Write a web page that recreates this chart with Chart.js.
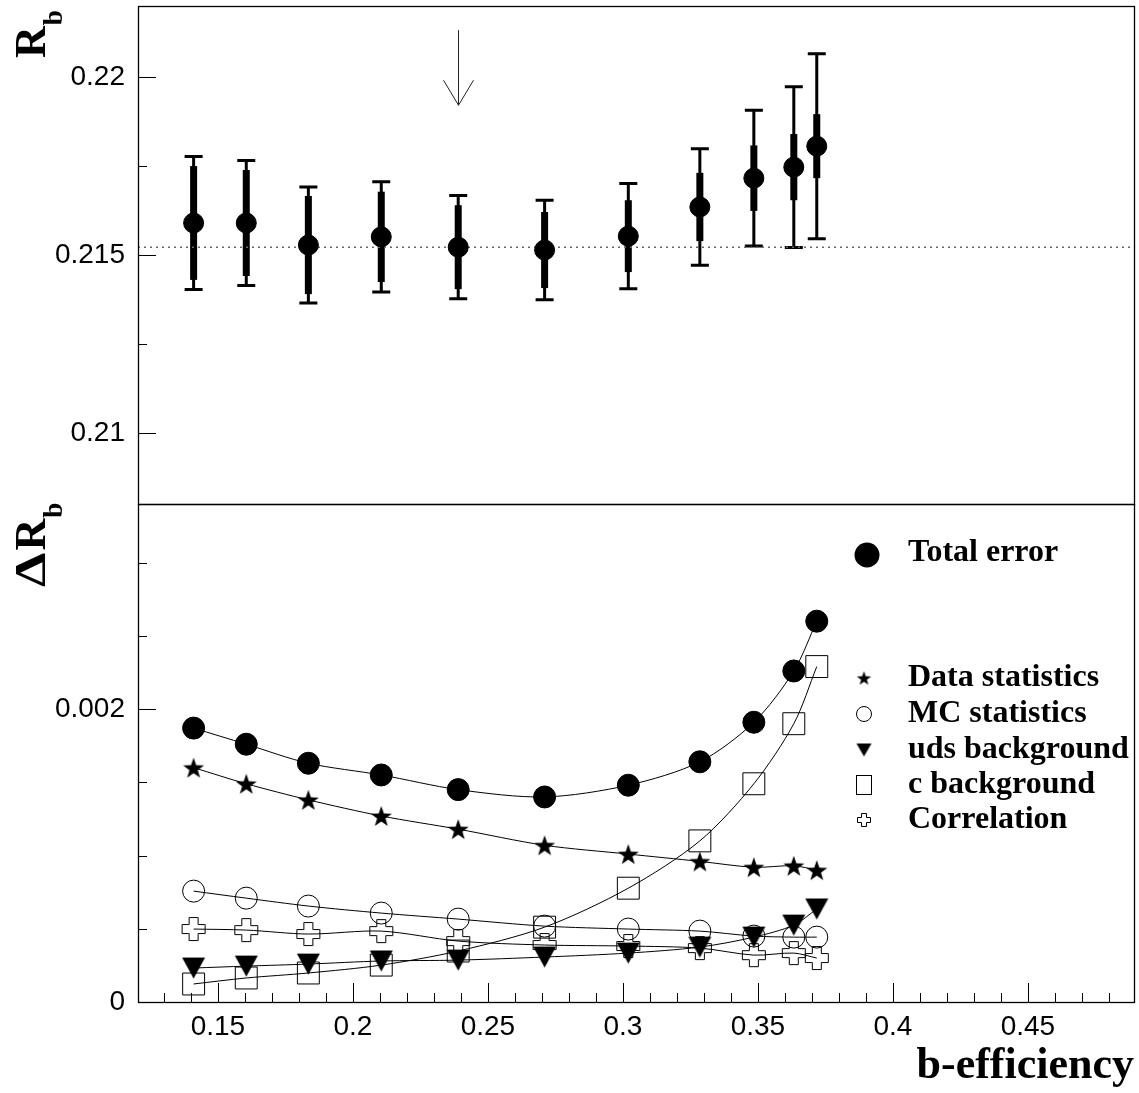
<!DOCTYPE html>
<html>
<head>
<meta charset="utf-8">
<script src="https://cdn.jsdelivr.net/npm/chart.js@4.4.1/dist/chart.umd.min.js"></script>
<style>
  body { margin: 0; background: #fff; }
  #wrap { position: relative; width: 1139px; height: 1093px; }
  #top { position: absolute; left: 0; top: 0; }
  #bot { position: absolute; left: 0; top: 498px; }
</style>
</head>
<body>
<div id="wrap">
  <canvas id="top" width="1139" height="510" style="width:1139px;height:510px"></canvas>
  <canvas id="bot" width="1139" height="595" style="width:1139px;height:595px"></canvas>
</div>
<script>
// scan points in b-efficiency
const bEff = [0.141, 0.1605, 0.1835, 0.2105, 0.239, 0.271, 0.302, 0.3285, 0.3485, 0.3633, 0.3718];
const rb = [0.2159, 0.2159, 0.21528, 0.21551, 0.21522, 0.21514, 0.21553, 0.21635, 0.21716, 0.21747, 0.21806];

// error breakdown (bottom panel)
const totalErr = [0.00187, 0.00176, 0.00163, 0.00155, 0.00145, 0.00140, 0.00148, 0.00164, 0.00191, 0.00226, 0.00260];
const dataStat = [0.00160, 0.00149, 0.00138, 0.00127, 0.00118, 0.00107, 0.00101, 0.00096, 0.00092, 0.00093, 0.00090];
const mcStat = [0.000757, 0.000709, 0.000655, 0.000607, 0.000566, 0.000518, 0.000498, 0.000484, 0.000450, 0.000443, 0.000443];
const udsBkg = [0.000232, 0.000245, 0.000259, 0.000280, 0.000286, 0.000307, 0.000334, 0.000375, 0.000443, 0.000525, 0.000635];
const cBkg = [0.000123, 0.000164, 0.000198, 0.000252, 0.000348, 0.000511, 0.000777, 0.00110, 0.00149, 0.00190, 0.00229];
const correl = [0.000498, 0.000491, 0.000464, 0.000484, 0.000416, 0.000389, 0.000382, 0.000368, 0.000320, 0.000334, 0.000300];

const rbRef = 0.21522;       // dotted line
const arrowAt = 0.239;       // chosen working point
const arrowFrom = 0.22132;
const arrowTo = 0.21921;

// axes
const xMin = 0.1204, xMax = 0.4893;
const xTicks = [0.15, 0.2, 0.25, 0.3, 0.35, 0.4, 0.45];
const xMinor = [0.13, 0.14, 0.16, 0.17, 0.18, 0.19, 0.21, 0.22, 0.23, 0.24, 0.26, 0.27, 0.28, 0.29,
                0.31, 0.32, 0.33, 0.34, 0.36, 0.37, 0.38, 0.39, 0.41, 0.42, 0.43, 0.44, 0.46, 0.47, 0.48];
const rbTicks = [0.21, 0.215, 0.22];
const rbMinor = [0.2125, 0.2175];
const dTicks = [0, 0.002];
const dMinor = [0.0005, 0.001, 0.0015, 0.0025, 0.003];

const legendLabels = ['Total error', 'Data statistics', 'MC statistics', 'uds background', 'c background', 'Correlation'];

Chart.defaults.font.family = "'Liberation Sans', Arial, sans-serif";
Chart.defaults.color = '#000';
const serifBold = "'Liberation Serif', 'Times New Roman', serif";

// marker images
function makeStar(r) {
    const s = Math.ceil(r * 2 + 2);
    const c = document.createElement('canvas');
    c.width = s; c.height = s;
    const g = c.getContext('2d');
    g.translate(s / 2, s / 2 + r * 0.1);
    g.beginPath();
    for (let k = 0; k < 10; k++) {
        const rr = k % 2 ? r * 0.4 : r;
        const a = -Math.PI / 2 + k * Math.PI / 5;
        g.lineTo(rr * Math.cos(a), rr * Math.sin(a));
    }
    g.closePath();
    g.fillStyle = '#000';
    g.fill();
    return c;
}

function makeCross(h, w) {
    const s = Math.ceil(h * 2 + 3);
    const c = document.createElement('canvas');
    c.width = s; c.height = s;
    const g = c.getContext('2d');
    g.translate(s / 2, s / 2);
    g.beginPath();
    const pts = [[-w, -h], [w, -h], [w, -w], [h, -w], [h, w], [w, w], [w, h], [-w, h], [-w, w], [-h, w], [-h, -w], [-w, -w]];
    pts.forEach(p => g.lineTo(p[0], p[1]));
    g.closePath();
    g.strokeStyle = '#000';
    g.lineWidth = 1;
    g.stroke();
    return c;
}

function makeTriangle(w, h) {
    const c = document.createElement('canvas');
    c.width = Math.ceil(w + 2); c.height = Math.ceil(h + 2);
    const g = c.getContext('2d');
    g.beginPath();
    g.moveTo(1, 1);
    g.lineTo(w + 1, 1);
    g.lineTo(w / 2 + 1, h + 1);
    g.closePath();
    g.fillStyle = '#000';
    g.fill();
    return c;
}

const starImg = makeStar(11);
const crossImg = makeCross(11.5, 4.5);
const triImg = makeTriangle(23, 21);
const starSmall = makeStar(7.5);
const crossSmall = makeCross(6.5, 2.5);
const triSmall = makeTriangle(15, 13);

function pts(ys) {
    return bEff.map((x, i) => ({x: x, y: ys[i]}));
}

function fmt(v) {
    return String(+v.toFixed(4));
}

// keep the plot frame where it is: no automatic label padding
function noPad(s) {
    s.paddingTop = 0; s.paddingBottom = 0; s.paddingLeft = 0; s.paddingRight = 0;
}

// tick marks + frame, drawn by hand so major/minor lengths differ
function frameTicks(xMaj, xMn, yMaj, yMn) {
    return {
        id: 'frameTicks',
        afterDraw(chart) {
            const {ctx, chartArea: a, scales: {x, y}} = chart;
            ctx.save();
            ctx.strokeStyle = '#000';
            ctx.lineWidth = 1;
            ctx.beginPath();
            xMaj.forEach(v => {
                const p = Math.round(x.getPixelForValue(v)) + 0.5;
                ctx.moveTo(p, a.bottom); ctx.lineTo(p, a.bottom - 19);
            });
            xMn.forEach(v => {
                const p = Math.round(x.getPixelForValue(v)) + 0.5;
                ctx.moveTo(p, a.bottom); ctx.lineTo(p, a.bottom - 9);
            });
            yMaj.forEach(v => {
                const p = Math.round(y.getPixelForValue(v)) + 0.5;
                ctx.moveTo(a.left, p); ctx.lineTo(a.left + 18, p);
            });
            yMn.forEach(v => {
                const p = Math.round(y.getPixelForValue(v)) + 0.5;
                ctx.moveTo(a.left, p); ctx.lineTo(a.left + 9, p);
            });
            ctx.stroke();
            ctx.lineWidth = 1.3;
            ctx.strokeRect(Math.round(a.left) + 0.5, Math.round(a.top) + 0.5, Math.round(a.right - a.left), Math.round(a.bottom - a.top));
            ctx.restore();
        }
    };
}

function yTitle(ctx, x, y, parts) {
    ctx.save();
    ctx.translate(x, y);
    ctx.rotate(-Math.PI / 2);
    ctx.fillStyle = '#000';
    ctx.textAlign = 'left';
    ctx.textBaseline = 'alphabetic';
    let off = 0;
    parts.forEach(p => {
        ctx.font = 'bold ' + p.size + 'px ' + serifBold;
        const sx = p.sx || 1;
        const w = ctx.measureText(p.text).width * sx;
        ctx.save();
        ctx.translate(off + (p.gap || 0), p.dy || 0);
        ctx.scale(sx, 1);
        ctx.fillText(p.text, 0, 0);
        ctx.restore();
        off += (p.gap || 0) + w;
    });
    ctx.restore();
}

// top panel: error bars (total = thin with caps, data stat = thick), arrow, title
const topDeco = {
    id: 'topDeco',
    beforeDatasetsDraw(chart) {
        const {ctx, scales: {x, y}} = chart;
        ctx.save();
        ctx.strokeStyle = '#000';
        for (let i = 0; i < bEff.length; i++) {
            const px = x.getPixelForValue(bEff[i]);
            const t = y.getPixelForValue(rb[i] + totalErr[i]);
            const b = y.getPixelForValue(rb[i] - totalErr[i]);
            ctx.lineWidth = 3;
            ctx.beginPath();
            ctx.moveTo(px, t); ctx.lineTo(px, b);
            ctx.moveTo(px - 9, t); ctx.lineTo(px + 9, t);
            ctx.moveTo(px - 9, b); ctx.lineTo(px + 9, b);
            ctx.stroke();
            ctx.lineWidth = 7;
            ctx.beginPath();
            ctx.moveTo(px, y.getPixelForValue(rb[i] + dataStat[i]));
            ctx.lineTo(px, y.getPixelForValue(rb[i] - dataStat[i]));
            ctx.stroke();
        }
        ctx.restore();
    },
    afterDraw(chart) {
        const {ctx, scales: {x, y}} = chart;
        const ax = Math.round(x.getPixelForValue(arrowAt)) + 0.5;
        const y0 = y.getPixelForValue(arrowFrom);
        const y1 = y.getPixelForValue(arrowTo);
        ctx.save();
        ctx.strokeStyle = '#222';
        ctx.lineWidth = 1;
        ctx.beginPath();
        ctx.moveTo(ax, y0); ctx.lineTo(ax, y1);
        ctx.moveTo(ax - 15, y1 - 25); ctx.lineTo(ax, y1); ctx.lineTo(ax + 15, y1 - 25);
        ctx.stroke();
        ctx.restore();
        yTitle(ctx, 45, 58, [{text: 'R', size: 44}, {text: 'b', size: 27, dy: 17, gap: 1}]);
    }
};

// bottom panel: legend and title
const botDeco = {
    id: 'botDeco',
    afterDraw(chart) {
        const {ctx} = chart;
        yTitle(ctx, 45, 89, [{text: '\u0394', size: 44, sx: 1.25, gap: 0}, {text: 'R', size: 44, gap: 2}, {text: 'b', size: 27, dy: 17, gap: 1}]);

        ctx.save();
        ctx.fillStyle = '#000';
        ctx.strokeStyle = '#000';
        ctx.lineWidth = 1;
        const mx = 864, tx = 908;
        const ys = [55, 180, 216, 252, 287, 322];
        // markers
        ctx.beginPath();
        ctx.arc(mx + 3, 57, 12.5, 0, Math.PI * 2);
        ctx.fill();
        ctx.drawImage(starSmall, mx - starSmall.width / 2, ys[1] - starSmall.height / 2);
        ctx.beginPath();
        ctx.arc(mx, ys[2], 7.5, 0, Math.PI * 2);
        ctx.stroke();
        ctx.drawImage(triSmall, mx - triSmall.width / 2, ys[3] - triSmall.height / 2);
        ctx.strokeRect(mx - 7.5, ys[4] - 9.5, 15, 19);
        ctx.drawImage(crossSmall, mx - crossSmall.width / 2, ys[5] - crossSmall.height / 2);
        // labels
        ctx.font = 'bold 32px ' + serifBold;
        ctx.textAlign = 'left';
        ctx.textBaseline = 'middle';
        legendLabels.forEach((t, i) => ctx.fillText(t, tx, ys[i]));
        ctx.restore();
    }
};

const topChart = new Chart(document.getElementById('top'), {
    type: 'scatter',
    data: {
        datasets: [{
            data: pts(rb),
            pointStyle: 'circle',
            pointRadius: 10,
            backgroundColor: '#000',
            borderColor: '#000'
        }, {
            data: [{x: xMin, y: rbRef}, {x: xMax, y: rbRef}],
            showLine: true,
            pointRadius: 0,
            borderColor: '#666',
            borderWidth: 1.5,
            borderDash: [2, 4]
        }]
    },
    options: {
        responsive: false,
        animation: false,
        layout: {autoPadding: false, padding: {top: 6, right: 5, bottom: 6, left: 0}},
        plugins: {legend: {display: false}, tooltip: {enabled: false}},
        scales: {
            x: {type: 'linear', min: xMin, max: xMax, display: false},
            y: {
                min: 0.208, max: 0.222,
                grid: {display: false, drawTicks: false},
                border: {display: false},
                afterBuildTicks: s => { s.ticks = rbTicks.map(v => ({value: v})); },
                afterFit: s => { s.width = 138; noPad(s); },
                ticks: {font: {size: 28}, padding: 13, callback: v => fmt(v)}
            }
        }
    },
    plugins: [topDeco, frameTicks([], [], rbTicks, rbMinor)]
});

const lineStyle = {showLine: true, borderColor: '#000', borderWidth: 1, tension: 0.3, pointBorderColor: '#000', pointBorderWidth: 1};

const botChart = new Chart(document.getElementById('bot'), {
    type: 'scatter',
    data: {
        datasets: [
            Object.assign({label: legendLabels[0], data: pts(totalErr), pointStyle: 'circle', pointRadius: 11, pointBackgroundColor: '#000'}, lineStyle),
            Object.assign({label: legendLabels[1], data: pts(dataStat), pointStyle: starImg, pointRadius: 11}, lineStyle),
            Object.assign({label: legendLabels[2], data: pts(mcStat), pointStyle: 'circle', pointRadius: 11, pointBackgroundColor: 'rgba(0,0,0,0)'}, lineStyle),
            Object.assign({label: legendLabels[3], data: pts(udsBkg), pointStyle: triImg, pointRadius: 12}, lineStyle),
            Object.assign({label: legendLabels[4], data: pts(cBkg), pointStyle: 'rect', pointRadius: 15.5, pointBackgroundColor: 'rgba(0,0,0,0)'}, lineStyle),
            Object.assign({label: legendLabels[5], data: pts(correl), pointStyle: crossImg, pointRadius: 12}, lineStyle)
        ]
    },
    options: {
        responsive: false,
        animation: false,
        layout: {autoPadding: false, padding: {top: 6, right: 5, bottom: 0, left: 0}},
        plugins: {legend: {display: false}, tooltip: {enabled: false}},
        scales: {
            x: {
                type: 'linear', min: xMin, max: xMax,
                grid: {display: false, drawTicks: false},
                border: {display: false},
                afterBuildTicks: s => { s.ticks = xTicks.map(v => ({value: v})); },
                afterFit: s => { s.height = 91; noPad(s); },
                ticks: {font: {size: 28}, padding: 8, maxRotation: 0, autoSkip: false, callback: v => fmt(v)},
                title: {
                    display: true, text: 'b-efficiency', align: 'end',
                    font: {family: serifBold, size: 44, weight: 'bold'},
                    padding: {top: 0, bottom: 0}
                }
            },
            y: {
                min: 0, max: 0.0034,
                grid: {display: false, drawTicks: false},
                border: {display: false},
                afterBuildTicks: s => { s.ticks = dTicks.map(v => ({value: v})); },
                afterFit: s => { s.width = 138; noPad(s); },
                ticks: {font: {size: 28}, padding: 13, callback: v => fmt(v)}
            }
        }
    },
    plugins: [botDeco, frameTicks(xTicks, xMinor, dTicks, dMinor)]
});
</script>
</body>
</html>
